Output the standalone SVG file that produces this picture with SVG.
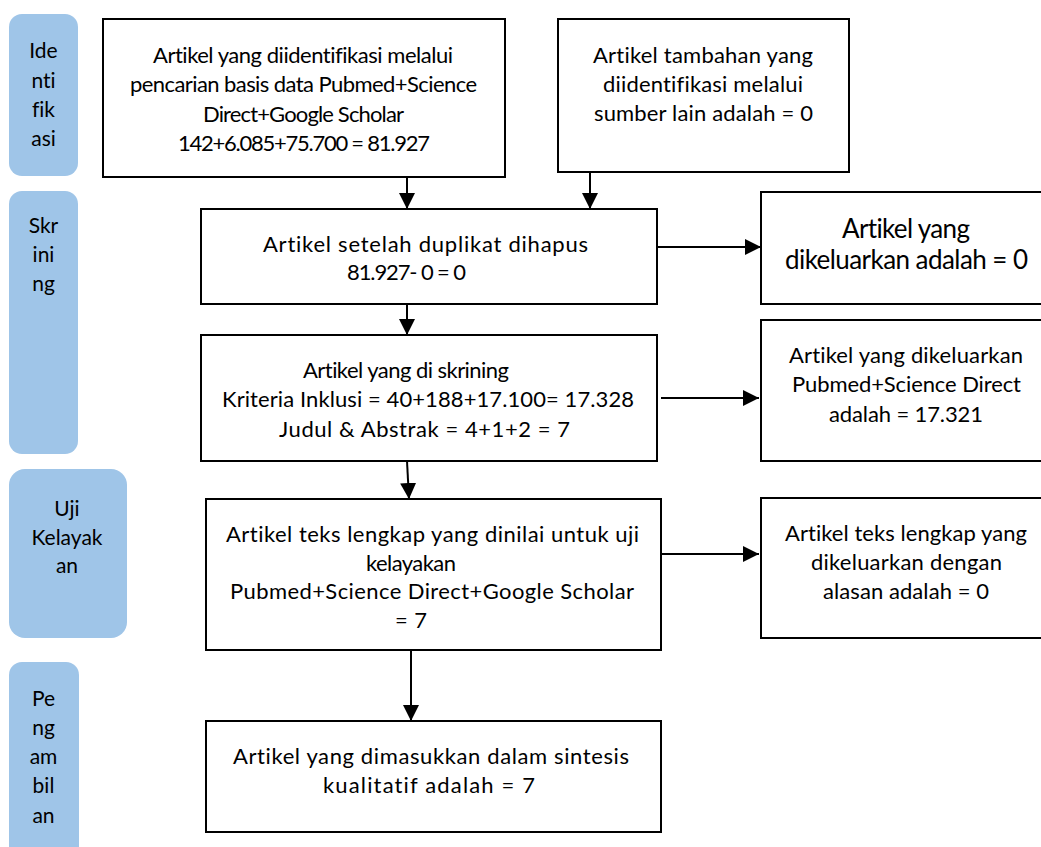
<svg xmlns="http://www.w3.org/2000/svg" width="1041" height="847" viewBox="0 0 1041 847">
<style>
.ph{fill:#9FC5E8;stroke:none}
.bx{fill:#fff;stroke:#000;stroke-width:2}
text{font-family:Lato,"Liberation Sans",Arial,sans-serif;font-size:22px;fill:#000;text-anchor:middle;font-variant-ligatures:none;font-feature-settings:"liga" 0,"clig" 0}
.pt{font-size:21px}
.big{font-size:26px}
.cn{stroke:#000;stroke-width:2;fill:none;marker-end:url(#ah)}
</style>
<defs>
<marker id="ah" markerUnits="userSpaceOnUse" markerWidth="16" markerHeight="16" viewBox="0 0 16 16" refX="16" refY="8" orient="auto">
<path d="M0,0 L16,8 L0,16 z" fill="#000"/>
</marker>
</defs>
<rect width="1041" height="847" fill="#fff"/>

<g id="phase-identifikasi">
<rect class="ph" x="9" y="14" width="69" height="162" rx="13"/>
<text class="pt" x="43.5" y="58">Ide</text>
<text class="pt" x="43.5" y="88">nti</text>
<text class="pt" x="43.5" y="117">fik</text>
<text class="pt" x="43.5" y="146">asi</text>
</g>
<g id="phase-skrining">
<rect class="ph" x="9" y="191" width="69" height="263" rx="13"/>
<text class="pt" x="43.5" y="233">Skr</text>
<text class="pt" x="43.5" y="262">ini</text>
<text class="pt" x="43.5" y="291">ng</text>
</g>
<g id="phase-kelayakan">
<rect class="ph" x="9" y="469" width="118" height="169" rx="16"/>
<text class="pt" x="67" y="516">Uji</text>
<text class="pt" x="67" y="545">Kelayak</text>
<text class="pt" x="67" y="573">an</text>
</g>
<g id="phase-pengambilan">
<rect class="ph" x="9" y="662" width="70" height="200" rx="13"/>
<text class="pt" x="43.5" y="706">Pe</text>
<text class="pt" x="43.5" y="735">ng</text>
<text class="pt" x="43.5" y="764">am</text>
<text class="pt" x="43.5" y="793">bil</text>
<text class="pt" x="43.5" y="823">an</text>
</g>

<g id="connectors">
<path class="cn" d="M407,177 L407,209"/>
<path class="cn" d="M590,172 L590,209"/>
<path class="cn" d="M657,247 L761,247"/>
<path class="cn" d="M407,304 L407,335"/>
<path class="cn" d="M661,398 L759,398"/>
<path class="cn" d="M407,461 L409,499"/>
<path class="cn" d="M661,554 L759,554"/>
<path class="cn" d="M411,650 L411,721"/>
</g>

<g id="box-identified">
<rect class="bx" x="103" y="19" width="402" height="158"/>
<text x="303" y="63" textLength="300" lengthAdjust="spacing">Artikel yang diidentifikasi melalui</text>
<text x="303.5" y="92" textLength="347" lengthAdjust="spacing">pencarian basis data Pubmed+Science</text>
<text x="303.5" y="122" textLength="201" lengthAdjust="spacing">Direct+Google Scholar</text>
<text x="304" y="151" textLength="252" lengthAdjust="spacing">142+6.085+75.700 = 81.927</text>
</g>
<g id="box-additional">
<rect class="bx" x="558" y="19" width="291" height="153"/>
<text x="703" y="63" textLength="220" lengthAdjust="spacing">Artikel tambahan yang</text>
<text x="703" y="92" textLength="200" lengthAdjust="spacing">diidentifikasi melalui</text>
<text x="703.5" y="121" textLength="219" lengthAdjust="spacing">sumber lain adalah = 0</text>
</g>
<g id="box-duplicates">
<rect class="bx" x="201" y="209" width="456" height="95"/>
<text x="425.5" y="252" textLength="325" lengthAdjust="spacing">Artikel setelah duplikat dihapus</text>
<text x="406.5" y="280" textLength="119" lengthAdjust="spacing">81.927- 0 = 0</text>
</g>
<g id="box-excluded-1">
<rect class="bx" x="761" y="192" width="300" height="112"/>
<text class="big" x="906" y="238" textLength="128" lengthAdjust="spacing">Artikel yang</text>
<text class="big" x="906.5" y="269" textLength="243" lengthAdjust="spacing">dikeluarkan adalah = 0</text>
</g>
<g id="box-screened">
<rect class="bx" x="201" y="335" width="456" height="126"/>
<text x="406" y="378" textLength="206" lengthAdjust="spacing">Artikel yang di skrining</text>
<text x="428" y="407" textLength="412" lengthAdjust="spacing">Kriteria Inklusi = 40+188+17.100= 17.328</text>
<text x="424.5" y="437" textLength="291" lengthAdjust="spacing">Judul &amp; Abstrak = 4+1+2 = 7</text>
</g>
<g id="box-excluded-2">
<rect class="bx" x="761" y="320" width="300" height="141"/>
<text x="906" y="363" textLength="234" lengthAdjust="spacing">Artikel yang dikeluarkan</text>
<text x="906.5" y="392" textLength="229" lengthAdjust="spacing">Pubmed+Science Direct</text>
<text x="906" y="422" textLength="154" lengthAdjust="spacing">adalah = 17.321</text>
</g>
<g id="box-eligibility">
<rect class="bx" x="206" y="499" width="455" height="151"/>
<text x="432.5" y="542" textLength="413" lengthAdjust="spacing">Artikel teks lengkap yang dinilai untuk uji</text>
<text x="411" y="571" textLength="90" lengthAdjust="spacing">kelayakan</text>
<text x="432" y="599" textLength="404" lengthAdjust="spacing">Pubmed+Science Direct+Google Scholar</text>
<text x="411" y="628" textLength="32" lengthAdjust="spacing" xml:space="preserve">=  7</text>
</g>
<g id="box-excluded-3">
<rect class="bx" x="761" y="498" width="300" height="140"/>
<text x="906" y="541" textLength="242" lengthAdjust="spacing">Artikel teks lengkap yang</text>
<text x="906.5" y="570" textLength="191" lengthAdjust="spacing">dikeluarkan dengan</text>
<text x="906" y="599" textLength="166" lengthAdjust="spacing">alasan adalah = 0</text>
</g>
<g id="box-included">
<rect class="bx" x="206" y="721" width="455" height="111"/>
<text x="431" y="764" textLength="396" lengthAdjust="spacing">Artikel yang dimasukkan dalam sintesis</text>
<text x="429" y="793" textLength="212" lengthAdjust="spacing">kualitatif adalah = 7</text>
</g>
</svg>
